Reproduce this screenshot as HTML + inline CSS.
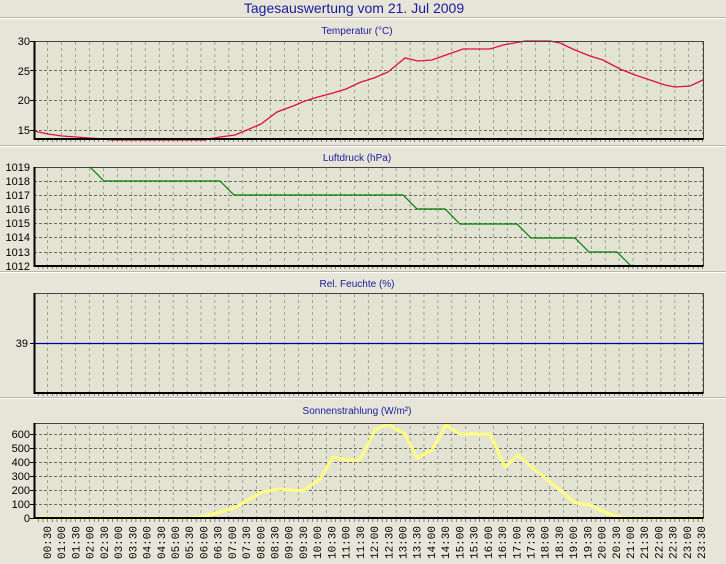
<!DOCTYPE html>
<html><head><meta charset="utf-8"><style>
html,body{margin:0;padding:0;background:#e6e5d8;}
svg{display:block}
</style></head><body>
<svg width="726" height="564" xmlns="http://www.w3.org/2000/svg" font-family="Liberation Sans, sans-serif">
<defs>
<pattern id="vg" x="34" y="0" width="13.9375" height="6" patternUnits="userSpaceOnUse">
<rect x="13.4" y="0" width="1" height="3" fill="#6a6a60"/>
</pattern>
<pattern id="mt" x="34" y="0" width="4.6458" height="10" patternUnits="userSpaceOnUse">
<rect x="4.1" y="0" width="1" height="10" fill="#333"/>
</pattern>
</defs>
<rect width="726" height="564" fill="#e6e5d8"/>
<text x="354" y="13" text-anchor="middle" font-size="14" fill="#1a1aa0">Tagesauswertung vom 21. Jul 2009</text>
<g stroke-width="1">
<line x1="0" y1="17.5" x2="726" y2="17.5" stroke="#b8b8ac"/><line x1="0" y1="18.5" x2="726" y2="18.5" stroke="#fff"/>
<line x1="0" y1="145.5" x2="726" y2="145.5" stroke="#b8b8ac"/><line x1="0" y1="146.5" x2="726" y2="146.5" stroke="#fff"/>
<line x1="0" y1="271.5" x2="726" y2="271.5" stroke="#b8b8ac"/><line x1="0" y1="272.5" x2="726" y2="272.5" stroke="#fff"/>
<line x1="0" y1="397.5" x2="726" y2="397.5" stroke="#b8b8ac"/><line x1="0" y1="398.5" x2="726" y2="398.5" stroke="#fff"/>
</g>
<g font-size="10" fill="#1a1aa0" text-anchor="middle">
<text x="357" y="34">Temperatur (°C)</text>
<text x="357" y="161">Luftdruck (hPa)</text>
<text x="357" y="287">Rel. Feuchte (%)</text>
<text x="357" y="414">Sonnenstrahlung (W/m²)</text>
</g>
<g fill="#e3e3d4">
<rect x="34" y="41" width="669" height="98"/>
<rect x="34" y="167" width="669" height="99"/>
<rect x="34" y="293" width="669" height="100"/>
<rect x="34" y="423" width="669" height="95"/>
</g>
<g fill="url(#vg)">
<rect x="34" y="41" width="669" height="98"/>
<rect x="34" y="167" width="669" height="99"/>
<rect x="34" y="293" width="669" height="100"/>
<rect x="34" y="423" width="669" height="95"/>
</g>
<g stroke="#6a6a60" stroke-dasharray="3,2" stroke-width="1">
<path d="M34 70.5H703M34 100.5H703M34 130.5H703"/>
<path d="M34 181.5H703M34 195.5H703M34 209.5H703M34 223.5H703M34 237.5H703M34 252.5H703"/>
<path d="M34 434.5H703M34 448.5H703M34 462.5H703M34 476.5H703M34 490.5H703M34 504.5H703"/>
</g>
<polyline fill="none" stroke="#e0103a" stroke-width="1.3" points="34,131 48,134 62,136 76,137 90,138 104,139 112,140 205,140 208,139 220,137 235,135 247,130 261,124 277,112 293,106 305,101 318,97 333,93 346,89 361,82 374,78 388,72 405,58 418,61 432,60 446,55 463,49 490,49 503,45 520,42 525,41 550,41 560,43 575,50 590,56 603,60 620,69 635,75 650,80 665,85 675,87 690,86 703,80"/>
<polyline fill="none" stroke="#008000" stroke-width="1.2" points="90,167 104,181 220,181 234,195 403,195 417,209 445,209 460,224 517,224 531,238 575,238 589,252 617,252 631,266"/>
<line x1="34" y1="343.5" x2="703" y2="343.5" stroke="#0000a0" stroke-width="1.3"/>
<polyline fill="none" stroke="#ffff80" stroke-width="3" stroke-linejoin="round" points="34,518 190,518 205,516 220,512 234,508 248,500 262,492 280,489 303,491 320,479 333,457 347,460 360,460 375,430 388,424 405,434 417,458 432,450 446,425 460,434 490,434 505,467 518,455 535,470 545,478 560,490 575,503 590,505 600,510 615,516 625,518 703,518"/>
<g fill="none">
<path d="M34 41.5H703.5V139" stroke="#444" stroke-width="1"/>
<path d="M34.5 41V139H703.5" stroke="#000" stroke-width="2"/>
<path d="M34 167.5H703.5V266" stroke="#444" stroke-width="1"/>
<path d="M34.5 167V266H703.5" stroke="#000" stroke-width="2"/>
<path d="M34 293.5H703.5V393" stroke="#444" stroke-width="1"/>
<path d="M34.5 293V393H703.5" stroke="#000" stroke-width="2"/>
<path d="M34 423.5H703.5V518" stroke="#444" stroke-width="1"/>
<path d="M34.5 423V518H703.5" stroke="#000" stroke-width="2"/>
</g>
<g fill="url(#mt)">
<rect x="34" y="140" width="669" height="2"/>
<rect x="34" y="267" width="669" height="2"/>
<rect x="34" y="394" width="669" height="2"/>
<rect x="34" y="519" width="669" height="3"/>
</g>
<g font-size="11" fill="#000" text-anchor="end">
<text x="30" y="45">30</text><text x="30" y="75">25</text><text x="30" y="104">20</text><text x="30" y="134">15</text>
<text x="30" y="171">1019</text><text x="30" y="185">1018</text><text x="30" y="199">1017</text><text x="30" y="213">1016</text><text x="30" y="227">1015</text><text x="30" y="241">1014</text><text x="30" y="256">1013</text><text x="30" y="270">1012</text>
<text x="28" y="347">39</text>
<text x="30" y="438">600</text><text x="30" y="452">500</text><text x="30" y="466">400</text><text x="30" y="480">300</text><text x="30" y="494">200</text><text x="30" y="508">100</text><text x="30" y="522">0</text>
</g>
<g stroke="#000"><path d="M30 41.5h4M30 70.5h4M30 100.5h4M30 130.5h4M30 343.5h4M30 434.5h4M30 448.5h4M30 462.5h4M30 476.5h4M30 490.5h4M30 504.5h4M30 518.5h4"/></g>
<g font-family="Liberation Mono, monospace" font-size="11" fill="#000" text-anchor="end">
<text transform="translate(51,526) rotate(-90)">00:30</text>
<text transform="translate(65.2,526) rotate(-90)">01:00</text>
<text transform="translate(79.4,526) rotate(-90)">01:30</text>
<text transform="translate(93.7,526) rotate(-90)">02:00</text>
<text transform="translate(107.9,526) rotate(-90)">02:30</text>
<text transform="translate(122.1,526) rotate(-90)">03:00</text>
<text transform="translate(136.3,526) rotate(-90)">03:30</text>
<text transform="translate(150.5,526) rotate(-90)">04:00</text>
<text transform="translate(164.8,526) rotate(-90)">04:30</text>
<text transform="translate(179,526) rotate(-90)">05:00</text>
<text transform="translate(193.2,526) rotate(-90)">05:30</text>
<text transform="translate(207.4,526) rotate(-90)">06:00</text>
<text transform="translate(221.6,526) rotate(-90)">06:30</text>
<text transform="translate(235.9,526) rotate(-90)">07:00</text>
<text transform="translate(250.1,526) rotate(-90)">07:30</text>
<text transform="translate(264.3,526) rotate(-90)">08:00</text>
<text transform="translate(278.5,526) rotate(-90)">08:30</text>
<text transform="translate(292.7,526) rotate(-90)">09:00</text>
<text transform="translate(307,526) rotate(-90)">09:30</text>
<text transform="translate(321.2,526) rotate(-90)">10:00</text>
<text transform="translate(335.4,526) rotate(-90)">10:30</text>
<text transform="translate(349.6,526) rotate(-90)">11:00</text>
<text transform="translate(363.8,526) rotate(-90)">11:30</text>
<text transform="translate(378.1,526) rotate(-90)">12:00</text>
<text transform="translate(392.3,526) rotate(-90)">12:30</text>
<text transform="translate(406.5,526) rotate(-90)">13:00</text>
<text transform="translate(420.7,526) rotate(-90)">13:30</text>
<text transform="translate(434.9,526) rotate(-90)">14:00</text>
<text transform="translate(449.2,526) rotate(-90)">14:30</text>
<text transform="translate(463.4,526) rotate(-90)">15:00</text>
<text transform="translate(477.6,526) rotate(-90)">15:30</text>
<text transform="translate(491.8,526) rotate(-90)">16:00</text>
<text transform="translate(506,526) rotate(-90)">16:30</text>
<text transform="translate(520.3,526) rotate(-90)">17:00</text>
<text transform="translate(534.5,526) rotate(-90)">17:30</text>
<text transform="translate(548.7,526) rotate(-90)">18:00</text>
<text transform="translate(562.9,526) rotate(-90)">18:30</text>
<text transform="translate(577.1,526) rotate(-90)">19:00</text>
<text transform="translate(591.4,526) rotate(-90)">19:30</text>
<text transform="translate(605.6,526) rotate(-90)">20:00</text>
<text transform="translate(619.8,526) rotate(-90)">20:30</text>
<text transform="translate(634,526) rotate(-90)">21:00</text>
<text transform="translate(648.2,526) rotate(-90)">21:30</text>
<text transform="translate(662.5,526) rotate(-90)">22:00</text>
<text transform="translate(676.7,526) rotate(-90)">22:30</text>
<text transform="translate(690.9,526) rotate(-90)">23:00</text>
<text transform="translate(705.1,526) rotate(-90)">23:30</text>
</g>
</svg>
</body></html>
